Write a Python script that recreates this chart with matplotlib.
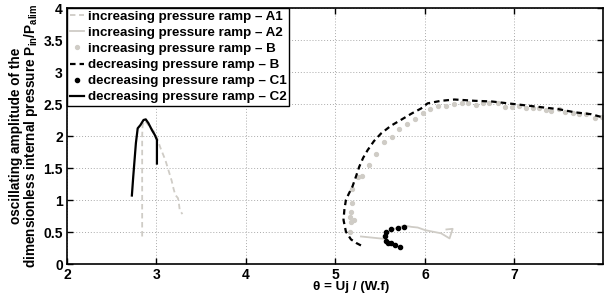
import matplotlib
matplotlib.use("Agg")
import matplotlib.pyplot as plt

plt.rcParams['font.family'] = ['Liberation Sans', 'DejaVu Sans']
plt.rcParams['font.weight'] = 'bold'
plt.rcParams['mathtext.fontset'] = 'custom'
plt.rcParams['mathtext.rm'] = 'Liberation Sans:bold'
plt.rcParams['mathtext.it'] = 'Liberation Sans:bold'
plt.rcParams['mathtext.bf'] = 'Liberation Sans:bold'

# ---- data ----
a1_x = [2.84, 2.84, 2.84, 2.845, 2.87, 2.91, 2.99, 3.04, 3.10, 3.17, 3.19, 3.21, 3.24, 3.25, 3.26, 3.29]
a1_y = [0.43, 1.20, 2.00, 2.17, 2.24, 2.17, 2.04, 1.83, 1.62, 1.30, 1.18, 1.08, 1.03, 0.95, 0.84, 0.78]

a2_x = [5.285, 5.565, 5.58, 5.62, 5.70, 5.77, 5.85, 5.92, 6.00, 6.07, 6.18, 6.275, 6.31, 6.24]
a2_y = [0.43, 0.39, 0.47, 0.53, 0.57, 0.60, 0.58, 0.57, 0.53, 0.51, 0.48, 0.40, 0.55, 0.54]

incB_x = [5.165, 5.173, 5.21, 5.165, 5.173, 5.18, 5.19, 5.25, 5.30, 5.38, 5.45, 5.546, 5.63,
          5.714, 5.80, 5.89, 5.976, 6.06, 6.15, 6.24, 6.33, 6.41, 6.48, 6.57, 6.65, 6.72,
          6.82, 6.90, 6.97, 7.05, 7.13, 7.21, 7.27, 7.35, 7.41, 7.50, 7.57, 7.65, 7.72,
          7.80, 7.90, 7.975]
incB_y = [0.505, 0.66, 0.68, 0.74, 0.82, 0.96, 1.17, 1.36, 1.375, 1.55, 1.72, 1.90, 1.98,
          2.11, 2.18, 2.26, 2.36, 2.42, 2.47, 2.47, 2.50, 2.52, 2.52, 2.48, 2.51, 2.52,
          2.51, 2.46, 2.46, 2.47, 2.43, 2.43, 2.43, 2.41, 2.39, 2.42, 2.38, 2.36, 2.35,
          2.35, 2.28, 2.30]

decB_x = [5.285, 5.23, 5.173, 5.117, 5.09, 5.10, 5.117, 5.15, 5.19, 5.23, 5.266, 5.31, 5.36,
          5.43, 5.51, 5.62, 5.73, 5.85, 5.957, 6.03, 6.18, 6.33, 6.45, 6.555, 6.742, 6.93,
          7.116, 7.30, 7.49, 7.676, 7.86, 7.99]
decB_y = [0.29, 0.33, 0.385, 0.505, 0.69, 0.85, 1.00, 1.10, 1.21, 1.37, 1.52, 1.66, 1.78,
          1.92, 2.04, 2.16, 2.25, 2.35, 2.43, 2.51, 2.55, 2.57, 2.56, 2.55, 2.54, 2.51,
          2.48, 2.45, 2.42, 2.37, 2.34, 2.29]

c1_x = [5.763, 5.696, 5.62, 5.565, 5.555, 5.565, 5.584, 5.62, 5.666, 5.72]
c1_y = [0.583, 0.557, 0.54, 0.505, 0.43, 0.36, 0.33, 0.33, 0.30, 0.27]

c2_x = [2.725, 2.74, 2.77, 2.79, 2.82, 2.855, 2.88, 2.91, 2.95, 2.98, 3.005, 3.005]
c2_y = [1.07, 1.36, 1.89, 2.12, 2.17, 2.25, 2.26, 2.20, 2.09, 2.02, 1.94, 1.57]

labels = ['increasing pressure ramp – A1', 'increasing pressure ramp – A2',
          'increasing pressure ramp – B', 'decreasing pressure ramp – B',
          'decreasing pressure ramp – C1', 'decreasing pressure ramp – C2']
xticks = [2, 3, 4, 5, 6, 7]
yticks = [0, 0.5, 1, 1.5, 2, 2.5, 3, 3.5, 4]

grey = '#cfccc6'

fig = plt.figure(figsize=(6.11, 2.98), dpi=100)
ax = fig.add_axes([67/611, 1-264/298, (603-67)/611, (264-8)/298])

ax.plot(a1_x, a1_y, color=grey, lw=1.3, ls=(0, (3, 2)), label=labels[0])
ax.plot(a2_x, a2_y, color=grey, lw=1.3, ls='-', label=labels[1])
ax.plot(incB_x, incB_y, color=grey, lw=0, marker='o', ms=2.8, mec=grey, label=labels[2])
ax.plot(decB_x, decB_y, color='black', lw=1.6, ls=(0, (2.5, 1.8)), label=labels[3])
ax.plot(c1_x, c1_y, color='black', lw=0, marker='o', ms=3.0, label=labels[4])
ax.plot(c2_x, c2_y, color='black', lw=1.6, ls='-', label=labels[5])

ax.set_xlim(2, 7.99)
ax.set_ylim(0, 4)
ax.set_xticks(xticks)
ax.set_yticks(yticks)
ax.set_xticklabels([str(t) for t in xticks])
ax.set_yticklabels(['0', '0.5', '1', '1.5', '2', '2.5', '3', '3.5', '4'])
ax.tick_params(direction='in', top=True, right=True, length=4, width=1,
               labelsize=10, pad=3)
for s in ax.spines.values():
    s.set_linewidth(1.2)
ax.grid(True, color='#aaaaaa', lw=0.7, ls=(0, (1, 2)))

ax.set_xlabel('θ = Uj / (W.f)', fontsize=9.6, fontweight='bold')
ax.xaxis.set_label_coords(0.53, -0.068)
ax.set_ylabel('oscillating amplitude of the\ndimensionless internal pressure P$_{\\mathrm{in}}$/P$_{\\mathrm{alim}}$',
              fontsize=9.8, fontweight='bold', linespacing=0.95)
ax.yaxis.set_label_coords(-0.05, 0.5)

leg = ax.legend(loc='upper left', borderaxespad=0, fancybox=False, framealpha=1,
                edgecolor='black', handlelength=1.1, handletextpad=0.25,
                labelspacing=0.28, borderpad=0.2, prop={'weight': 'bold', 'size': 9.6})
leg.get_frame().set_linewidth(1.0)

fig.savefig('out.png', dpi=100)
